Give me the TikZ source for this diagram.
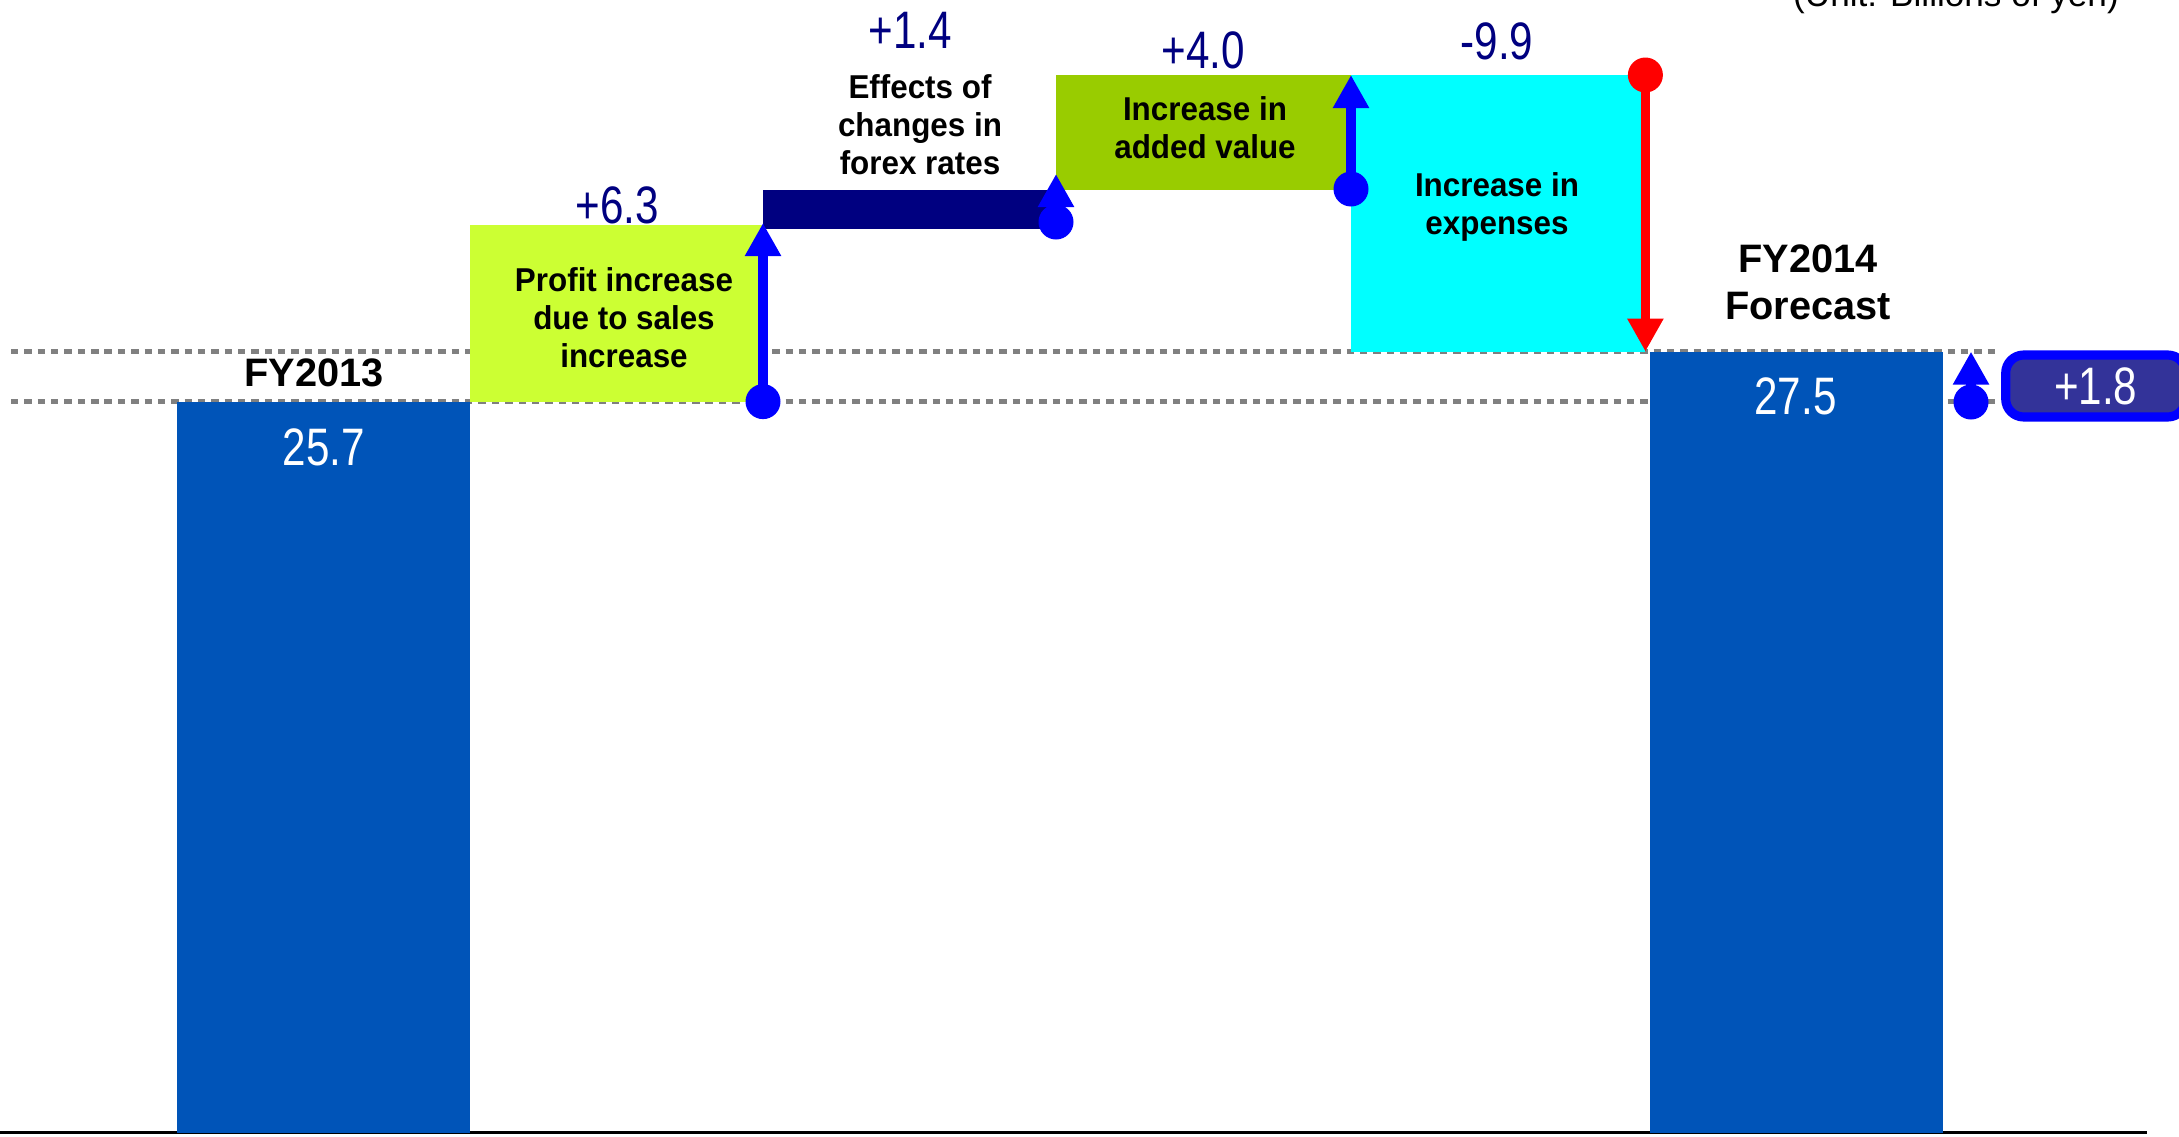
\documentclass[tikz,border=0pt]{standalone}
\usepackage{fontspec}
\setmainfont{Liberation Sans}
\newfontfamily\valfont[FakeStretch=0.8]{Liberation Sans}
\newfontfamily\boxfont[FakeStretch=0.95]{Liberation Sans}
\usepackage{xcolor}
\usetikzlibrary{arrows.meta}
\definecolor{barblue}{RGB}{0,84,184}
\definecolor{salesgreen}{RGB}{204,255,51}
\definecolor{forexnavy}{RGB}{0,0,128}
\definecolor{valuegreen}{RGB}{153,204,0}
\definecolor{costcyan}{RGB}{0,255,255}
\definecolor{valnavy}{RGB}{0,0,128}
\definecolor{arrowblue}{RGB}{0,0,255}
\definecolor{arrowred}{RGB}{255,0,0}
\definecolor{diffpurple}{RGB}{51,51,153}
\definecolor{dotgray}{RGB}{128,128,128}

\begin{document}
\begin{tikzpicture}[scale=1,
    gridline/.style={draw=dotgray, line width=1.6pt, dash pattern=on 2.1pt off 1.7pt},
    vallabel/.style={font=\valfont\fontsize{15}{18}\selectfont, text=valnavy, inner sep=0pt},
    barlabel/.style={font=\valfont\fontsize{15}{18}\selectfont, text=white, inner sep=0pt},
    yearlabel/.style={font=\bfseries\fontsize{11.3}{13.4}\selectfont, align=center, inner sep=0pt},
    boxlabel/.style={font=\boxfont\bfseries\fontsize{9.4}{10.8}\selectfont, align=center, inner sep=0pt},
    dotblue/.style={circle, fill=arrowblue, minimum size=0.35cm, inner sep=0pt},
    dotred/.style={dotblue, fill=arrowred},
    uparrow/.style={draw=arrowblue, line width=2.7pt, -{Triangle[length=9.4pt,width=9.7pt]}},
    downarrow/.style={uparrow, draw=arrowred}]
    \useasboundingbox (0,0) rectangle (21.79,11.36);
    \clip (0,0) rectangle (21.79,11.36);
    % 单位
    \node[anchor=base, font=\fontsize{10}{12}\selectfont, inner sep=0pt] (unit) at (19.56,11.30) {(Unit: Billions of yen)};
    % 虚线
    \draw[gridline] (0.11,7.844) -- (20.0,7.844);
    \draw[gridline] (0.11,7.344) -- (20.0,7.344);
    % 横轴
    \draw[line width=0.85pt] (0,0.034) -- (21.47,0.034);

    % FY2013
    \fill[barblue] (1.765,0.034) rectangle (4.697,7.344);
    \node[yearlabel] (fy13) at (3.14,7.636) {FY2013};
    \node[barlabel] (v13) at (3.24,6.885) {25.7};
    % 销售增长
    \fill[salesgreen] (4.697,7.344) rectangle (7.63,9.11);
    \node[boxlabel] (sales) at (6.24,8.18) {Profit increase\\due to sales\\increase};
    \node[vallabel] (vsales) at (6.17,9.303) {+6.3};
    % 汇率
    \fill[forexnavy] (7.63,9.067) rectangle (10.56,9.456);
    \node[boxlabel] (forex) at (9.20,10.11) {Effects of\\changes in\\forex rates};
    \node[vallabel] (vforex) at (9.10,11.054) {+1.4};
    % 附加价值
    \fill[valuegreen] (10.56,9.456) rectangle (13.51,10.61);
    \node[boxlabel] (added) at (12.05,10.08) {Increase in\\added value};
    \node[vallabel] (vadded) at (12.035,10.86) {+4.0};
    % 费用
    \fill[costcyan] (13.51,7.844) rectangle (16.454,10.61);
    \node[boxlabel] (cost) at (14.97,9.29) {Increase in\\expenses};
    \node[vallabel] (vcost) at (14.97,10.943) {-9.9};
    % FY2014
    \fill[barblue] (16.496,0.034) rectangle (19.428,7.844);
    \node[yearlabel] (fy14) at (18.08,8.54) {FY2014\\Forecast};
    \node[barlabel] (v14) at (17.955,7.40) {27.5};

    % 箭头
    \node[dotblue] (d1) at (7.63,7.344) {};
    \coordinate (t1) at (7.63,9.13);
    \draw[uparrow] (d1.center) -- (t1);
    \node[dotblue] (d2) at (10.56,9.14) {};
    \coordinate (t2) at (10.56,9.62);
    \draw[uparrow] (d2.center) -- (t2);
    \node[dotblue] (d3) at (13.51,9.47) {};
    \coordinate (t3) at (13.51,10.61);
    \draw[uparrow] (d3.center) -- (t3);
    \node[dotred] (d4) at (16.454,10.61) {};
    \coordinate (t4) at (16.454,7.844);
    \draw[downarrow] (d4.center) -- (t4);
    \node[dotblue] (d5) at (19.71,7.34) {};
    \coordinate (t5) at (19.71,7.844);
    \draw[uparrow] (d5.center) -- (t5);
    % 差额
    \node[barlabel, draw=arrowblue, line width=2.6pt, fill=diffpurple, rounded corners=0.18cm,
        minimum width=1.80cm, minimum height=0.62cm] (diff) at (20.957,7.50) {+1.8};
\end{tikzpicture}
\end{document}
